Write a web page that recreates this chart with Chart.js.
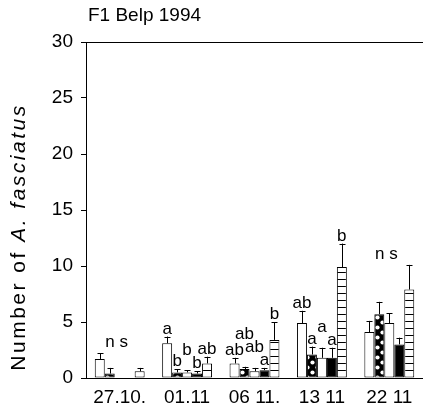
<!DOCTYPE html>
<html><head><meta charset="utf-8">
<script src="https://cdn.jsdelivr.net/npm/chart.js@4"></script>
<style>html,body{margin:0;padding:0;background:#fff}#wrap{width:423px;height:413px;position:relative}</style>
</head><body><div id="wrap"><canvas id="c"></canvas></div>
<script>
const titleText = 'F1 Belp 1994';
const yTitleNormal = 'Number of ';
const yTitleItalic = 'A. fasciatus';
const categories = ['27.10.', '01.11', '06 11.', '13 11', '22 11'];
const seriesA = [1.7, 3.1, 1.3, 4.9, 4.1];
const errA    = [0.5, 0.6, 0.5, 1.1, 1.0];
const seriesB = [0.4, 0.5, 0.8, 2.1, 5.7];
const errB    = [0.5, 0.3, 0.2, 0.7, 1.1];
const seriesC = [0, 0.5, 0.6, 1.8, 4.9];
const errC    = [0, 0.2, 0.3, 0.9, 0.9];
const seriesD = [0, 0.4, 0.7, 1.8, 3.0];
const errD    = [0, 0.2, 0.2, 0.9, 0.6];
const seriesE = [0.6, 1.3, 3.4, 9.9, 7.9];
const errE    = [0.3, 0.6, 1.6, 2.1, 2.2];
const lettersA = ['', 'a', 'ab', 'ab', ''];
const lettersB = ['', 'b', 'ab', 'a', ''];
const lettersC = ['', 'b', 'ab', 'a', ''];
const lettersD = ['', 'b', 'a', 'a', ''];
const lettersE = ['', 'ab', 'b', 'b', ''];
const groupNotes = ['n s', '', '', '', 'n s'];
const yMin = 0, yMax = 30, yStep = 5;

function circlePattern() {
  const c = document.createElement('canvas'); c.width = 10; c.height = 10;
  const g = c.getContext('2d');
  g.fillStyle = '#000'; g.fillRect(0, 0, 10, 10);
  g.fillStyle = '#fff';
  [[2.5, 2.5], [7.5, 7.5]].forEach(p => { g.beginPath(); g.arc(p[0], p[1], 2.1, 0, Math.PI * 2); g.fill(); });
  return g.createPattern(c, 'repeat');
}
function stripePattern() {
  const c = document.createElement('canvas'); c.width = 8; c.height = 7;
  const g = c.getContext('2d');
  g.fillStyle = '#fff'; g.fillRect(0, 0, 8, 7);
  g.fillStyle = '#000'; g.fillRect(0, 6, 8, 1);
  return g.createPattern(c, 'repeat');
}

const sets = [
  { data: seriesA, err: errA, letters: lettersA, fill: '#fff' },
  { data: seriesB, err: errB, letters: lettersB, fill: circlePattern() },
  { data: seriesC, err: errC, letters: lettersC, fill: '#fff' },
  { data: seriesD, err: errD, letters: lettersD, fill: '#000' },
  { data: seriesE, err: errE, letters: lettersE, fill: stripePattern() }
];

const FONT = '"Liberation Sans", Arial, sans-serif';

const extras = {
  id: 'extras',
  afterDatasetsDraw(chart) {
    const ctx = chart.ctx, y = chart.scales.y, area = chart.chartArea;
    ctx.save();
    ctx.strokeStyle = '#000'; ctx.lineWidth = 1;
    ctx.beginPath(); ctx.moveTo(area.left, area.top + 0.5); ctx.lineTo(area.right, area.top + 0.5); ctx.stroke();
    sets.forEach((s, di) => {
      const meta = chart.getDatasetMeta(di);
      s.data.forEach((v, i) => {
        if (!s.err[i]) return;
        const x = Math.round(meta.data[i].x) + 0.5;
        const y0 = y.getPixelForValue(v), y1 = y.getPixelForValue(v + s.err[i]);
        ctx.beginPath(); ctx.moveTo(x, y0); ctx.lineTo(x, y1);
        ctx.moveTo(x - 3, Math.round(y1) + 0.5); ctx.lineTo(x + 3, Math.round(y1) + 0.5); ctx.stroke();
      });
    });
    ctx.fillStyle = '#000';
    ctx.font = '17px ' + FONT;
    ctx.textAlign = 'center'; ctx.textBaseline = 'alphabetic';
    const h = 12;
    categories.forEach((c, i) => {
      const placed = [];
      for (let di = sets.length - 1; di >= 0; di--) {
        const s = sets[di], t = s.letters[i];
        if (!t) continue;
        const single = t.length === 1;
        const pad = single ? 1.5 : 0, tol = single ? 2 : 0;
        const meta = chart.getDatasetMeta(di);
        const x = meta.data[i].x;
        const w = ctx.measureText(t).width;
        let b = y.getPixelForValue(s.data[i] + s.err[i]) - 3;
        let moved = true;
        while (moved) {
          moved = false;
          for (const p of placed) {
            if (x - w / 2 - pad < p.r && p.l < x + w / 2 + pad && b - h < p.b - tol && p.b - h < b - tol) { b = p.b - h - 1; moved = true; }
          }
        }
        placed.push({ l: x - w / 2, r: x + w / 2, b });
        ctx.fillText(t, x, b);
      }
      if (groupNotes[i]) {
        let top = Infinity;
        sets.forEach(s => { top = Math.min(top, y.getPixelForValue(s.data[i] + s.err[i])); });
        const xs = chart.scales.x.getPixelForValue(i);
        ctx.fillText(groupNotes[i], xs - 3, top - 6);
      }
    });
    ctx.textAlign = 'left';
    ctx.font = '19px ' + FONT;
    ctx.fillText(titleText, 88, 21);
    ctx.save();
    ctx.translate(25, 237);
    ctx.rotate(-Math.PI / 2);
    ctx.letterSpacing = '2.5px';
    ctx.font = '21px ' + FONT;
    const w1 = ctx.measureText(yTitleNormal).width;
    ctx.font = 'italic 21px ' + FONT;
    const w2 = ctx.measureText(yTitleItalic).width;
    const start = -(w1 + w2) / 2;
    ctx.font = '21px ' + FONT;
    ctx.fillText(yTitleNormal, start, 0);
    ctx.font = 'italic 21px ' + FONT;
    ctx.fillText(yTitleItalic, start + w1, 0);
    ctx.restore();
    ctx.restore();
  }
};

new Chart(document.getElementById('c'), {
  type: 'bar',
  data: {
    labels: categories,
    datasets: sets.map(s => ({
      data: s.data, backgroundColor: s.fill, borderColor: '#000', borderWidth: 1,
      borderSkipped: false, categoryPercentage: 0.74, barPercentage: 1.0
    }))
  },
  options: {
    responsive: true, maintainAspectRatio: false, animation: false,
    layout: { padding: { top: 42, right: 0, left: 0, bottom: 0 } },
    plugins: { legend: { display: false }, tooltip: { enabled: false }, title: { display: false } },
    scales: {
      x: {
        grid: { display: true, drawOnChartArea: false, drawTicks: false },
        border: { display: true, color: '#000', width: 1 },
        ticks: { color: '#000', font: { family: FONT, size: 19 }, padding: 8, maxRotation: 0, autoSkip: false },
        afterFit(s) { s.height = 35; }
      },
      y: {
        min: yMin, max: yMax,
        grid: { display: true, drawOnChartArea: false, drawTicks: true, tickLength: 5, color: '#000' },
        border: { display: true, color: '#000', width: 1 },
        ticks: { stepSize: yStep, color: '#000', font: { family: FONT, size: 19 }, padding: 8 },
        afterFit(s) { s.width = 86; }
      }
    }
  },
  plugins: [extras]
});
</script></body></html>
